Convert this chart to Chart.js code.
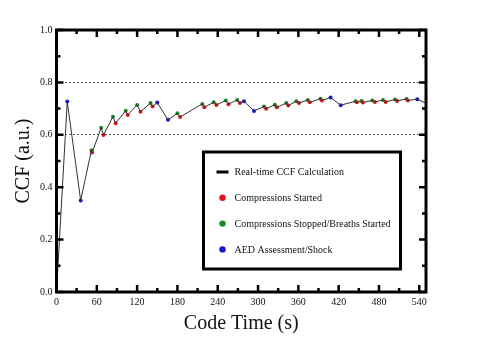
<!DOCTYPE html>
<html>
<head>
<meta charset="utf-8">
<script src="https://cdn.jsdelivr.net/npm/chart.js@4"></script>
<style>
  body { margin: 0; background: #fff; }
  canvas { display: block; }
</style>
</head>
<body>
<canvas id="myChart" width="480" height="346"></canvas>
<script>
// real-time CCF curve
let codeTime = [0, 16, 36, 52, 53, 66.5, 70, 84, 88, 103, 106, 120, 125, 140, 143, 150, 166,
    180, 184, 217, 220, 234, 238, 252, 256, 269, 273, 279, 294, 309, 312, 325, 328,
    342, 345, 357, 361, 374, 377, 393, 395, 408, 423, 445, 447, 454, 456, 470, 474,
    486, 490, 504, 507, 521, 523, 537, 550];
let ccf = [0, 0.727, 0.349, 0.541, 0.532, 0.627, 0.599, 0.669, 0.644, 0.692, 0.676, 0.714, 0.688, 0.721, 0.708, 0.723, 0.657,
    0.682, 0.668, 0.718, 0.705, 0.724, 0.714, 0.731, 0.717, 0.733, 0.721, 0.728, 0.691, 0.708, 0.699, 0.715, 0.705,
    0.721, 0.712, 0.728, 0.721, 0.733, 0.724, 0.738, 0.731, 0.742, 0.713, 0.728, 0.724, 0.729, 0.723, 0.731, 0.725,
    0.733, 0.725, 0.735, 0.729, 0.737, 0.731, 0.736, 0.721];
// event at each point: '' none, 'C' compressions started, 'S' stopped/breaths, 'A' AED
let eventType = ['', 'A', 'A', 'S', 'C', 'S', 'C', 'S', 'C', 'S', 'C', 'S', 'C', 'S', 'C', 'A', 'A',
    'S', 'C', 'S', 'C', 'S', 'C', 'S', 'C', 'S', 'C', 'A', 'A', 'S', 'C', 'S', 'C',
    'S', 'C', 'S', 'C', 'S', 'C', 'S', 'C', 'A', 'A', 'S', 'C', 'S', 'C', 'S', 'C',
    'S', 'C', 'S', 'C', 'S', 'C', 'A', ''];

let xTicks = [0, 60, 120, 180, 240, 300, 360, 420, 480, 540];
let yTicks = [0, 0.2, 0.4, 0.6, 0.8, 1.0];
let gridLines = [0.6, 0.8];

let seriesLabels = ['Real-time CCF Calculation', 'Compressions Started',
    'Compressions Stopped/Breaths Started', 'AED Assessment/Shock'];

const serif = "'Liberation Serif', 'Times New Roman', serif";

function points(type){
    let out = [];
    for(let i = 0; i < codeTime.length; i++){
        if(type === null || eventType[i] === type){
            out.push({x: codeTime[i], y: ccf[i]});
        }
    }
    return out;
}

function markerSet(label, type, color){
    return {
        type: 'scatter',
        label: label,
        data: points(type),
        backgroundColor: color,
        borderColor: color,
        pointRadius: 2,
        pointBorderWidth: 0,
        showLine: false
    };
}

// thick frame with inward ticks on all four sides
const framePlugin = {
    id: 'frame',
    afterDatasetsDraw(chart){
        const {ctx, chartArea: a, scales} = chart;
        ctx.save();
        ctx.strokeStyle = '#000';
        ctx.lineWidth = 2.5;
        for(let t = 0; t <= 540; t += 30){
            let px = scales.x.getPixelForValue(t);
            let len = (t % 60 === 0) ? 7 : 4;
            ctx.beginPath();
            ctx.moveTo(px, a.bottom); ctx.lineTo(px, a.bottom - len);
            ctx.moveTo(px, a.top); ctx.lineTo(px, a.top + len);
            ctx.stroke();
        }
        for(let k = 0; k <= 10; k++){
            let py = scales.y.getPixelForValue(k / 10);
            let len = (k % 2 === 0) ? 7 : 4;
            ctx.beginPath();
            ctx.moveTo(a.left, py); ctx.lineTo(a.left + len, py);
            ctx.moveTo(a.right, py); ctx.lineTo(a.right - len, py);
            ctx.stroke();
        }
        ctx.lineWidth = 3;
        ctx.strokeRect(a.left, a.top, a.right - a.left, a.bottom - a.top);
        ctx.restore();
    }
};

// boxed legend inside the plot
const legendBox = {
    id: 'legendBox',
    afterDraw(chart){
        const {ctx, chartArea: a} = chart;
        let left = a.left + 147, top = a.top + 122, w = 197, h = 117;
        ctx.save();
        ctx.fillStyle = '#fff';
        ctx.fillRect(left, top, w, h);
        ctx.strokeStyle = '#000';
        ctx.lineWidth = 3;
        ctx.strokeRect(left, top, w, h);
        ctx.font = '10px ' + serif;
        ctx.textBaseline = 'middle';
        ctx.textAlign = 'left';
        chart.data.datasets.forEach(function(ds, i){
            let y = top + 20 + i * 25.8;
            let cx = left + 19;
            if(i === 0){
                ctx.fillStyle = '#000';
                ctx.fillRect(cx - 6, y - 1.5, 12, 3);
            }else{
                ctx.fillStyle = ds.backgroundColor;
                ctx.beginPath();
                ctx.arc(cx, y, 3.2, 0, Math.PI * 2);
                ctx.fill();
            }
            ctx.fillStyle = '#111';
            ctx.fillText(ds.label, left + 31, y + 0.5);
        });
        ctx.restore();
    }
};

var ctx = document.getElementById('myChart').getContext('2d');
let config = {
    type: 'scatter',
    data: {
        datasets: [{
            type: 'line',
            label: seriesLabels[0],
            data: points(null),
            borderColor: '#333',
            borderWidth: 1,
            pointRadius: 0,
            fill: false,
            tension: 0
        },
        markerSet(seriesLabels[1], 'C', '#e3141c'),
        markerSet(seriesLabels[2], 'S', '#1a8a22'),
        markerSet(seriesLabels[3], 'A', '#1414d2')]
    },
    options: {
        responsive: false,
        animation: false,
        layout: { padding: { left: 8, right: 54, top: 30, bottom: 6 } },
        plugins: { legend: { display: false }, tooltip: { enabled: false } },
        scales: {
            x: {
                type: 'linear',
                min: 0,
                max: 550,
                afterBuildTicks: function(scale){
                    scale.ticks = xTicks.map(v => ({value: v}));
                },
                grid: { display: false, drawTicks: false },
                border: { display: false },
                ticks: { color: '#111', padding: 4, maxRotation: 0, font: { family: serif, size: 10 } },
                title: {
                    display: true,
                    text: 'Code Time (s)',
                    color: '#111',
                    padding: { top: 0, bottom: 4 },
                    font: { family: serif, size: 20 }
                }
            },
            y: {
                min: 0,
                max: 1,
                afterBuildTicks: function(scale){
                    scale.ticks = yTicks.map(v => ({value: v}));
                },
                grid: {
                    drawTicks: false,
                    lineWidth: 1,
                    color: function(c){
                        if(c.tick && gridLines.some(g => Math.abs(g - c.tick.value) < 1e-6)){
                            return '#555';
                        }
                        return 'rgba(0,0,0,0)';
                    }
                },
                border: { display: false, dash: [2, 2] },
                ticks: {
                    color: '#111',
                    padding: 4,
                    font: { family: serif, size: 10 },
                    callback: function(v){ return Number(v).toFixed(1); }
                },
                title: {
                    display: true,
                    text: 'CCF (a.u.)',
                    color: '#111',
                    padding: { top: 6, bottom: 2 },
                    font: { family: serif, size: 20, lineHeight: 1 }
                }
            }
        }
    },
    plugins: [framePlugin, legendBox]
};
let myChart = new Chart(ctx, config);
</script>
</body>
</html>
